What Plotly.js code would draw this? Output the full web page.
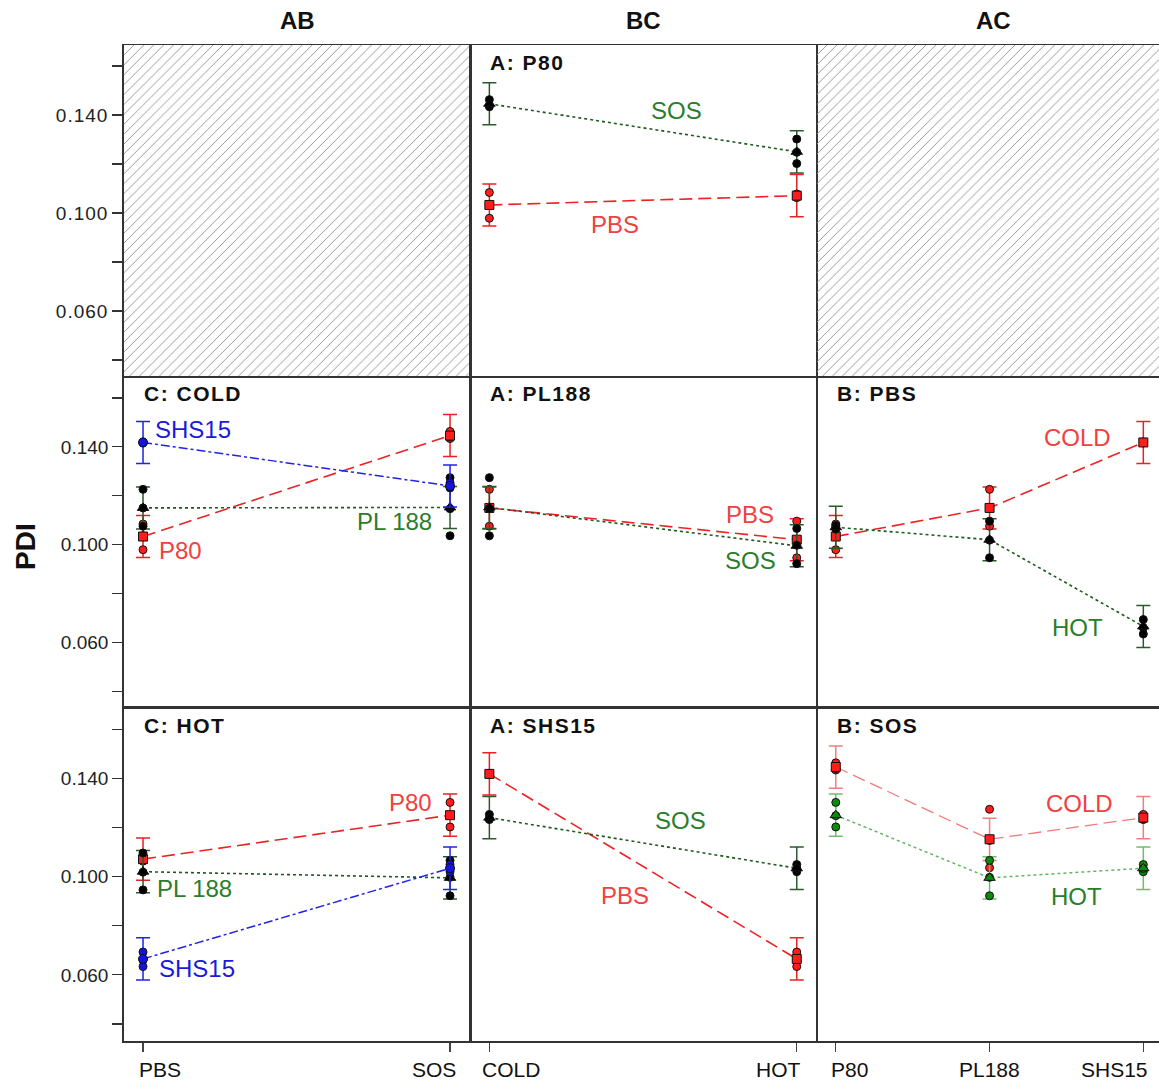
<!DOCTYPE html>
<html>
<head>
<meta charset="utf-8">
<script src="https://cdn.plot.ly/plotly-3.0.1.min.js"></script>
<style>
html,body{margin:0;padding:0;background:#fff;}
#chart{width:1159px;height:1086px;}
#chart .ytick text{letter-spacing:1px;}
</style>
</head>
<body>
<div id="chart"></div>
<script>
// ---------- Factor levels ----------
const levelsA = ['P80', 'PL188', 'SHS15'];   // surfactant
const levelsB = ['PBS', 'SOS'];              // medium
const levelsC = ['COLD', 'HOT'];             // temperature

// ---------- Cell means (index by surfactant: P80, PL188, SHS15) ----------
const mean_PBS_COLD = [0.1033, 0.1150, 0.1418];
const mean_PBS_HOT  = [0.1071, 0.1020, 0.0665];
const mean_SOS_COLD = [0.1446, 0.1152, 0.1240];
const mean_SOS_HOT  = [0.1250, 0.0995, 0.1034];

// ---------- Replicates ----------
const reps_PBS_COLD = [[0.1084, 0.1036, 0.0979], [0.1226, 0.1150, 0.1075], [0.1420, 0.1416, 0.1418]];
const reps_PBS_HOT  = [[0.1078, 0.1072, 0.1063], [0.1096, 0.1018, 0.0946], [0.0693, 0.0660, 0.0634]];
const reps_SOS_COLD = [[0.1463, 0.1434, 0.1440], [0.1274, 0.1147, 0.1036], [0.1253, 0.1232, 0.1236]];
const reps_SOS_HOT  = [[0.1302, 0.1202, 0.1248], [0.1066, 0.0997, 0.0922], [0.1049, 0.1020, 0.1033]];

// error bar half-width (LSD)
const errHalf = 0.0086;

// tick labels
const yTickVals = [0.060, 0.100, 0.140];
const yTickText = ['0.060', '0.100', '0.140'];
const yMinorVals = [0.040, 0.080, 0.120, 0.160];

// ---------- lookup built from the arrays ----------
const MEANS = {PBS: {COLD: mean_PBS_COLD, HOT: mean_PBS_HOT}, SOS: {COLD: mean_SOS_COLD, HOT: mean_SOS_HOT}};
const REPS  = {PBS: {COLD: reps_PBS_COLD, HOT: reps_PBS_HOT}, SOS: {COLD: reps_SOS_COLD, HOT: reps_SOS_HOT}};
const cellMean = (a, b, c) => MEANS[b][c][levelsA.indexOf(a)];
const cellReps = (a, b, c) => REPS[b][c][levelsA.indexOf(a)];

// ---------- styles ----------
const FONT = 'Arial, "Liberation Sans", sans-serif';
const ST = {
  red:   {line: '#ee2222', dash: '13px,6px', lw: 1.6, err: '#e82222', rep: '#ff1c1c', sym: 'square', msize: 9, mcol: '#ff1c1c'},
  black: {line: '#1d5a1d', dash: 'dot', lw: 1.6, err: '#2b5a2b', rep: '#000000', sym: 'triangle-up', msize: 10, mcol: '#000000'},
  blue:  {line: '#2222e6', dash: 'dashdot', lw: 1.5, err: '#2222e6', rep: '#1414e0', sym: 'circle', msize: 9, mcol: '#1414e0'},
  lred:  {line: '#f07a7a', dash: '13px,6px', lw: 1.3, err: '#ef7f7f', rep: '#ff1c1c', sym: 'square', msize: 9, mcol: '#ff1c1c'},
  lgreen:{line: '#5fb85f', dash: 'dot', lw: 1.5, err: '#6cc06c', rep: '#0b8a0b', sym: 'triangle-up', msize: 10, mcol: '#0b8a0b'}
};
const TXT = {red: '#f24040', green: '#2a7d2a', blue: '#1a1ad8'};

const xRangeAB = [-0.062, 1.065];
const xRangeBC = [-0.063, 1.066];
const xRangeAC = [-0.122, 2.102];
const yRange = [0.0331, 0.1686];

const traces = [];
const ax = n => (n === 1 ? '' : String(n));

function addSeries(n, xs, ms, rs, s) {
  const xa = 'x' + ax(n), ya = 'y' + ax(n);
  traces.push({type: 'scatter', mode: 'lines', x: xs, y: ms, xaxis: xa, yaxis: ya,
    line: {color: s.line, dash: s.dash, width: s.lw}, hoverinfo: 'skip', showlegend: false});
  traces.push({type: 'scatter', mode: 'markers', x: xs, y: ms, xaxis: xa, yaxis: ya,
    marker: {size: 1, color: 'rgba(0,0,0,0)'},
    error_y: {type: 'constant', value: errHalf, color: s.err, thickness: 1.5, width: 7},
    hoverinfo: 'skip', showlegend: false});
  const rx = [], ry = [];
  rs.forEach((r, i) => r.forEach(v => { rx.push(xs[i]); ry.push(v); }));
  traces.push({type: 'scatter', mode: 'markers', x: rx, y: ry, xaxis: xa, yaxis: ya,
    marker: {symbol: 'circle', size: 8, color: s.rep, line: {color: '#111', width: 1}}, showlegend: false});
  traces.push({type: 'scatter', mode: 'markers', x: xs, y: ms, xaxis: xa, yaxis: ya,
    marker: {symbol: s.sym, size: s.msize, color: s.mcol, line: {color: '#111', width: 1}}, showlegend: false});
}

const idxB = levelsB.map((_, i) => i);
const idxC = levelsC.map((_, i) => i);
const idxA = levelsA.map((_, i) => i);

// AB panels (x = medium, series = surfactant), per temperature
[[4, 'COLD'], [7, 'HOT']].forEach(([n, c]) => {
  [['P80', ST.red], ['PL188', ST.black], ['SHS15', ST.blue]].forEach(([a, s]) => {
    addSeries(n, idxB, levelsB.map(b => cellMean(a, b, c)), levelsB.map(b => cellReps(a, b, c)), s);
  });
});
// BC panels (x = temperature, series = medium), per surfactant
[[2, 'P80'], [5, 'PL188'], [8, 'SHS15']].forEach(([n, a]) => {
  [['PBS', ST.red], ['SOS', ST.black]].forEach(([b, s]) => {
    addSeries(n, idxC, levelsC.map(c => cellMean(a, b, c)), levelsC.map(c => cellReps(a, b, c)), s);
  });
});
// AC panels (x = surfactant, series = temperature), per medium
[[6, 'PBS', ST.red, ST.black], [9, 'SOS', ST.lred, ST.lgreen]].forEach(([n, b, sc, sh]) => {
  addSeries(n, idxA, levelsA.map(a => cellMean(a, b, 'COLD')), levelsA.map(a => cellReps(a, b, 'COLD')), sc);
  addSeries(n, idxA, levelsA.map(a => cellMean(a, b, 'HOT')), levelsA.map(a => cellReps(a, b, 'HOT')), sh);
});

// hatched empty panels
[[1, xRangeAB], [3, xRangeAC]].forEach(([n, xr]) => {
  traces.push({type: 'scatter', mode: 'lines', xaxis: 'x' + ax(n), yaxis: 'y' + ax(n),
    x: [xr[0], xr[1], xr[1], xr[0], xr[0]], y: [yRange[0], yRange[0], yRange[1], yRange[1], yRange[0]],
    fill: 'toself', fillcolor: 'rgba(0,0,0,0)', line: {width: 0},
    fillpattern: {shape: '/', size: 7, solidity: 0.14, fgcolor: '#9a9a9a', bgcolor: 'rgba(255,255,255,0)'},
    hoverinfo: 'skip', showlegend: false});
});

// ---------- layout ----------
const colDom = [[0, 0.3343], [0.3343, 0.6696], [0.6696, 1]];
const rowDom = [[0.6667, 1], [0.3343, 0.6667], [0, 0.3343]];
const xRanges = [xRangeAB, xRangeBC, xRangeAC];
const layout = {
  width: 1159, height: 1086,
  margin: {l: 124, r: 0, t: 45, b: 45},
  paper_bgcolor: '#ffffff', plot_bgcolor: '#ffffff',
  font: {family: FONT, color: '#111'},
  showlegend: false,
  annotations: [], shapes: []
};
for (let r = 0; r < 3; r++) {
  for (let c = 0; c < 3; c++) {
    const n = r * 3 + c + 1;
    const bottom = r === 2;
    const nCat = c === 2 ? 3 : 2;
    layout['xaxis' + ax(n)] = {
      domain: colDom[c], anchor: 'y' + ax(n), range: xRanges[c], fixedrange: true,
      showgrid: false, zeroline: false, showline: true, mirror: true,
      linecolor: '#333', linewidth: bottom ? 1.8 : 1,
      tickmode: 'array', tickvals: Array.from({length: nCat}, (_, i) => i),
      ticks: bottom ? 'outside' : '', ticklen: 9, tickwidth: 1.1, tickcolor: '#444',
      showticklabels: false
    };
    layout['yaxis' + ax(n)] = {
      domain: rowDom[r], anchor: 'x' + ax(n), range: yRange, fixedrange: true,
      showgrid: false, zeroline: false, showline: true, mirror: c !== 2,
      linecolor: '#333', linewidth: c === 0 ? 1.8 : 1,
      tickmode: 'array', tickvals: yTickVals, ticktext: yTickText,
      ticks: c === 0 ? 'outside' : '', ticklen: 10, tickwidth: 1.2, tickcolor: '#333',
      showticklabels: c === 0, tickfont: {size: 19, family: FONT, color: '#222'},
      minor: c === 0 ? {tickvals: yMinorVals, ticks: 'outside', ticklen: 10, tickwidth: 1.2, tickcolor: '#333'} : undefined
    };
  }
}

const A = layout.annotations;
// column headers
[['AB', 1], ['BC', 2], ['AC', 3]].forEach(([t, n]) => {
  A.push({text: '<b>' + t + '</b>', xref: 'x' + ax(n) + ' domain', yref: 'paper', x: n === 3 ? 0.515 : 0.5, y: 1,
    yshift: 25, yanchor: 'middle', showarrow: false, font: {size: 24, family: FONT, color: '#111'}});
});
// y title
A.push({text: '<b>PDI</b>', xref: 'paper', yref: 'paper', x: 0, xshift: -99, xanchor: 'center', y: 0.5, yshift: -4,
  yanchor: 'middle', textangle: -90, showarrow: false, font: {size: 28, family: FONT, color: '#111'}});
// panel titles
[[2, 'A: P80'], [4, 'C: COLD'], [5, 'A: PL188'], [6, 'B: PBS'], [7, 'C: HOT'], [8, 'A: SHS15'], [9, 'B: SOS']].forEach(([n, t]) => {
  A.push({text: '<b><span style="letter-spacing:1.5px">' + t + '</span></b>', xref: 'x' + ax(n) + ' domain', yref: 'y' + ax(n) + ' domain',
    x: 0, xshift: 18, y: 1, yshift: -17, xanchor: 'left', yanchor: 'middle', showarrow: false,
    font: {size: 21, family: FONT, color: '#111'}});
});
// bottom category labels
const bottomLabels = [
  [7, levelsB, ['left', 'right'], [-6, 8]],
  [8, levelsC, ['left', 'right'], [-9, 6]],
  [9, levelsA, ['left', 'center', 'right'], [-7, 0, 7]]
];
bottomLabels.forEach(([n, labs, anchors, shifts]) => {
  labs.forEach((t, i) => {
    A.push({text: t, xref: 'x' + ax(n), yref: 'paper', x: i, y: 0, yshift: -28, xshift: shifts[i],
      xanchor: anchors[i], yanchor: 'middle', showarrow: false, font: {size: 21, family: FONT, color: '#111'}});
  });
});
// series labels
const seriesLabels = [
  [2, 'SOS', 0.610, 0.1420, TXT.green, 'center'],
  [2, 'PBS', 0.409, 0.0955, TXT.red, 'center'],
  [4, 'SHS15', 0.033, 0.1469, TXT.blue, 'left'],
  [4, 'PL 188', 0.818, 0.1094, TXT.green, 'center'],
  [4, 'P80', 0.121, 0.0976, TXT.red, 'center'],
  [5, 'PBS', 0.848, 0.1122, TXT.red, 'center'],
  [5, 'SOS', 0.851, 0.0935, TXT.green, 'center'],
  [6, 'COLD', 1.575, 0.1437, TXT.red, 'center'],
  [6, 'HOT', 1.569, 0.0661, TXT.green, 'center'],
  [7, 'P80', 0.870, 0.1302, TXT.red, 'center'],
  [7, 'PL 188', 0.169, 0.0951, TXT.green, 'center'],
  [7, 'SHS15', 0.176, 0.0624, TXT.blue, 'center'],
  [8, 'SOS', 0.621, 0.1229, TXT.green, 'center'],
  [8, 'PBS', 0.442, 0.0922, TXT.red, 'center'],
  [9, 'COLD', 1.588, 0.1298, TXT.red, 'center'],
  [9, 'HOT', 1.568, 0.0918, TXT.green, 'center']
];
seriesLabels.forEach(([n, t, x, y, col, xa]) => {
  A.push({text: t, xref: 'x' + ax(n), yref: 'y' + ax(n), x: x, y: y, xanchor: xa, yanchor: 'middle',
    showarrow: false, font: {size: 24, family: FONT, color: col}});
});

Plotly.newPlot('chart', traces, layout, {displayModeBar: false, staticPlot: true});
</script>
</body>
</html>
